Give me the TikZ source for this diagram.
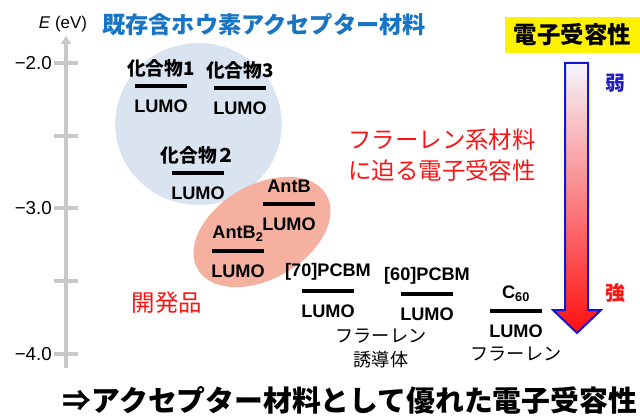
\documentclass[tikz,border=0pt]{standalone}
\usepackage{fontspec}
\setmainfont{Liberation Sans}
\newfontfamily\jp{Noto Sans CJK JP}
\usetikzlibrary{arrows.meta}
\definecolor{axisgray}{RGB}{200,200,200}
\definecolor{knownblue}{RGB}{218,227,240}
\definecolor{newsalmon}{RGB}{246,176,160}
\definecolor{titleblue}{RGB}{24,116,196}
\definecolor{hotred}{RGB}{250,20,20}
\definecolor{weakblue}{RGB}{30,30,190}
\definecolor{edgeblue}{RGB}{20,20,215}
\definecolor{arrowtop}{RGB}{244,245,251}
\definecolor{arrowmid}{RGB}{245,195,200}
\definecolor{arrowbot}{RGB}{255,15,15}
\begin{document}
\begin{tikzpicture}[x=0.3mm, y=-0.3mm, node distance=5.2mm]
        % Define styles for nodes and arrows
        \tikzstyle{lumobar} = [rectangle, fill=black, inner sep=0pt, minimum width=15.6mm, minimum height=1.3mm]
        \tikzstyle{cmpd} = [inner sep=0pt, font=\fontsize{16}{19}\selectfont\bfseries\jp]
        \tikzstyle{chem} = [inner sep=0pt, font=\fontsize{15.5}{18}\selectfont\bfseries]
        \tikzstyle{lumo} = [inner sep=0pt, font=\fontsize{15.5}{18}\selectfont\bfseries]
        \tikzstyle{axisline} = [axisgray, line width=1mm]
        \tikzstyle{ticklab} = [inner sep=0pt, anchor=east, font=\fontsize{16}{19}\selectfont]
        \tikzstyle{redtext} = [inner sep=0pt, text=hotred, align=center, font=\fontsize{19}{22}\selectfont\jp]
        \tikzstyle{plaintext} = [inner sep=0pt, align=center, font=\fontsize{15.5}{20.5}\selectfont\jp]

        \useasboundingbox (0,0) rectangle (640,416);

        % Groups behind the levels
        \fill[knownblue] (198.5,124) ellipse [x radius=25mm, y radius=24.3mm];
        \fill[newsalmon, rotate around={30:(262,232)}] (262,232) ellipse [x radius=22.3mm, y radius=14.1mm];

        % Energy axis
        \coordinate (axbot) at (66,368);
        \coordinate (axtop) at (66,36);
        \draw[axisline, -{Triangle[width=3mm, length=2.4mm]}] (axbot) -- (axtop);
        \foreach \ty/\tlab in {63/−2.0, 136/{}, 208/−3.0, 281/{}, 354/−4.0} {
            \draw[axisline] (54,\ty) -- (78,\ty);
            \node (t\ty) [ticklab] at (52,\ty) {\tlab};
        }
        \node (unit) [inner sep=0pt, font=\fontsize{14.5}{17}\selectfont] at (63,24) {\textit{E} (eV)};
        \node (known) [inner sep=0pt, anchor=west, text=titleblue, font=\fontsize{19.8}{22}\selectfont\bfseries\jp] at (102,25) {既存含ホウ素アクセプター材料};

        % LUMO levels
        \node (c1) [lumobar] at (161,86) {};
        \node (c3) [lumobar] at (240,88) {};
        \node (c2) [lumobar] at (198,173) {};
        \node (antb) [lumobar] at (289,204) {};
        \node (antbb) [lumobar] at (238,251) {};
        \node (p70) [lumobar] at (328,291) {};
        \node (p60) [lumobar] at (427,294) {};
        \node (c60) [lumobar] at (516,311) {};

        \node (c1name) [cmpd, above of = c1] {化合物1};
        \node (c3name) [cmpd, above of = c3] {化合物3};
        \node (c2name) [cmpd, above of = c2] {化合物２};
        \node (antbname) [chem, above of = antb] {AntB};
        \node (antbbname) [chem, above of = antbb] {AntB\textsubscript{2}};
        \node (p70name) [chem, above of = p70, node distance=5.7mm] {[70]PCBM};
        \node (p60name) [chem, above of = p60, node distance=5.5mm] {[60]PCBM};
        \node (c60name) [chem, above of = c60] {C\textsubscript{60}};

        \foreach \lv in {c1, c3, c2, antb, antbb, p70, p60, c60}
            \node (\lv lumo) [lumo, below of = \lv, node distance=6.2mm] {LUMO};

        \node (deriv) [plaintext] at (381,348) {フラーレン\\誘導体};
        \node (fullerene) [plaintext, below of = c60lumo, node distance=6.6mm] {フラーレン};

        % Remarks
        \node (devel) [redtext, font=\fontsize{20}{22}\selectfont\jp] at (167,303) {開発品};
        \node (near) [redtext, font=\fontsize{20}{26}\selectfont\jp] at (442,155) {フラーレン系材料\\に迫る電子受容性};

        % Acceptor strength scale
        \node (scale) [fill=yellow, inner sep=0pt, minimum width=40.5mm, minimum height=10.8mm, font=\fontsize{20}{22}\selectfont\bfseries\jp] at (572.5,35) {電子受容性};
        \draw[edgeblue, line width=0.6mm, line join=miter, top color=arrowtop, middle color=arrowmid, bottom color=arrowbot]
            (565,63) -- (588,63) -- (588,310) -- (601,310) -- (577,333) -- (553,310) -- (565,310) -- cycle;
        \node (weak) [inner sep=0pt, text=weakblue, font=\fontsize{17}{20}\selectfont\bfseries\jp] at (615,83) {弱};
        \node (strong) [inner sep=0pt, text=hotred, font=\fontsize{17}{20}\selectfont\bfseries\jp] at (615,293) {強};

        % Conclusion
        \node (result) [inner sep=0pt, font=\fontsize{24.6}{28}\selectfont\bfseries\jp] at (350,400) {⇒アクセプター材料として優れた電子受容性};
    \end{tikzpicture}
\end{document}
